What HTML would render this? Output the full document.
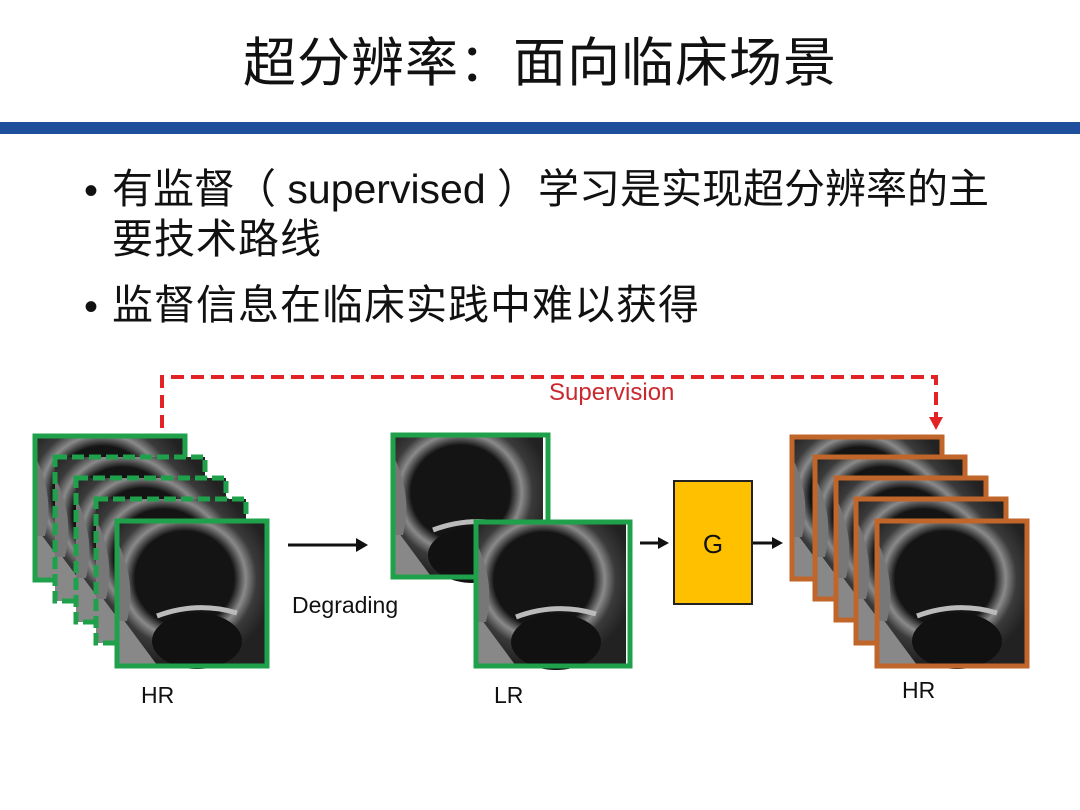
<!DOCTYPE html>
<html><head><meta charset="utf-8"><style>
body{margin:0;width:1080px;height:810px;background:#fff;overflow:hidden;position:relative;font-family:"Liberation Sans","Noto Sans CJK SC",sans-serif;}
.t{position:absolute;white-space:nowrap;color:#111;}
</style></head><body>
<div class="t" style="left:0;width:1080px;text-align:center;top:32px;font-size:53px;line-height:64px;letter-spacing:1px;">超分辨率：面向临床场景</div>
<div style="position:absolute;left:0;top:122px;width:1080px;height:12px;background:#1f4e9c;"></div>
<div class="t" style="left:84px;top:166px;font-size:40px;line-height:50px;">•</div>
<div class="t" style="left:112px;top:164px;font-size:41px;line-height:50px;letter-spacing:0px;">有监督（ supervised ）学习是实现超分辨率的主</div>
<div class="t" style="left:112px;top:214px;font-size:41px;line-height:50px;letter-spacing:1px;">要技术路线</div>
<div class="t" style="left:84px;top:282px;font-size:40px;line-height:50px;">•</div>
<div class="t" style="left:112px;top:280px;font-size:41px;line-height:50px;letter-spacing:1px;">监督信息在临床实践中难以获得</div>
<svg width="1080" height="810" style="position:absolute;left:0;top:0">
<defs>
<radialGradient id="b" cx="0.45" cy="0.4" r="0.6"><stop offset="0.55" stop-color="#141414"/><stop offset="0.68" stop-color="#8a8a8a"/><stop offset="0.8" stop-color="#3a3a3a"/><stop offset="1" stop-color="#222"/></radialGradient>
<g id="m"><rect width="150" height="144" fill="url(#b)"/><path d="M0 90 L40 144 L0 144Z" fill="#888"/><path d="M0 20 Q20 60 10 100 L0 100Z" fill="#777"/><ellipse cx="80" cy="120" rx="45" ry="28" fill="#111"/><path d="M40 95 Q80 80 120 92" stroke="#bbb" stroke-width="5" fill="none"/></g>
</defs>
<g stroke-width="5">
<g transform="translate(35,436)"><use href="#m"/><rect width="150" height="144" fill="none" stroke="#1fa04a"/></g>
<g transform="translate(55,457)"><use href="#m"/><rect width="150" height="144" fill="none" stroke="#1fa04a" stroke-dasharray="12 5"/></g>
<g transform="translate(76,478)"><use href="#m"/><rect width="150" height="144" fill="none" stroke="#1fa04a" stroke-dasharray="12 5"/></g>
<g transform="translate(96,499)"><use href="#m"/><rect width="150" height="144" fill="none" stroke="#1fa04a" stroke-dasharray="12 5"/></g>
<g transform="translate(117,521)"><use href="#m"/><rect width="150" height="145" fill="none" stroke="#1fa04a"/></g>
<g transform="translate(393,435)"><use href="#m"/><rect width="155" height="142" fill="none" stroke="#1fa04a"/></g>
<g transform="translate(476,522)"><use href="#m"/><rect width="154" height="144" fill="none" stroke="#1fa04a"/></g>
<g transform="translate(792,437)"><use href="#m"/><rect width="150" height="142" fill="none" stroke="#c0662a"/></g>
<g transform="translate(815,457)"><use href="#m"/><rect width="150" height="142" fill="none" stroke="#c0662a"/></g>
<g transform="translate(836,478)"><use href="#m"/><rect width="150" height="142" fill="none" stroke="#c0662a"/></g>
<g transform="translate(856,499)"><use href="#m"/><rect width="150" height="144" fill="none" stroke="#c0662a"/></g>
<g transform="translate(877,521)"><use href="#m"/><rect width="150" height="145" fill="none" stroke="#c0662a"/></g>
</g>
<rect x="674" y="481" width="78" height="123" fill="#ffc000" stroke="#222" stroke-width="2"/>
<text x="713" y="553" font-family="Liberation Sans" font-size="26" text-anchor="middle" fill="#111">G</text>
<g stroke="#111" stroke-width="3"><line x1="288" y1="545" x2="362" y2="545"/><line x1="640" y1="543" x2="662" y2="543"/><line x1="753" y1="543" x2="776" y2="543"/></g>
<g fill="#111"><path d="M368 545 L356 538 L356 552Z"/><path d="M669 543 L658 537 L658 549Z"/><path d="M783 543 L772 537 L772 549Z"/></g>
<path d="M162 428 L162 377 L936 377 L936 418" fill="none" stroke="#e32226" stroke-width="4" stroke-dasharray="13 7"/>
<path d="M936 430 L929 417 L943 417Z" fill="#e32226"/>
<text x="549" y="400" font-family="Liberation Sans" font-size="24" fill="#c8282e">Supervision</text>
<g font-family="Liberation Sans" font-size="23" fill="#111">
<text x="292" y="613">Degrading</text>
<text x="141" y="703">HR</text>
<text x="494" y="703">LR</text>
<text x="902" y="698">HR</text>
</g>
</svg>
</body></html>
